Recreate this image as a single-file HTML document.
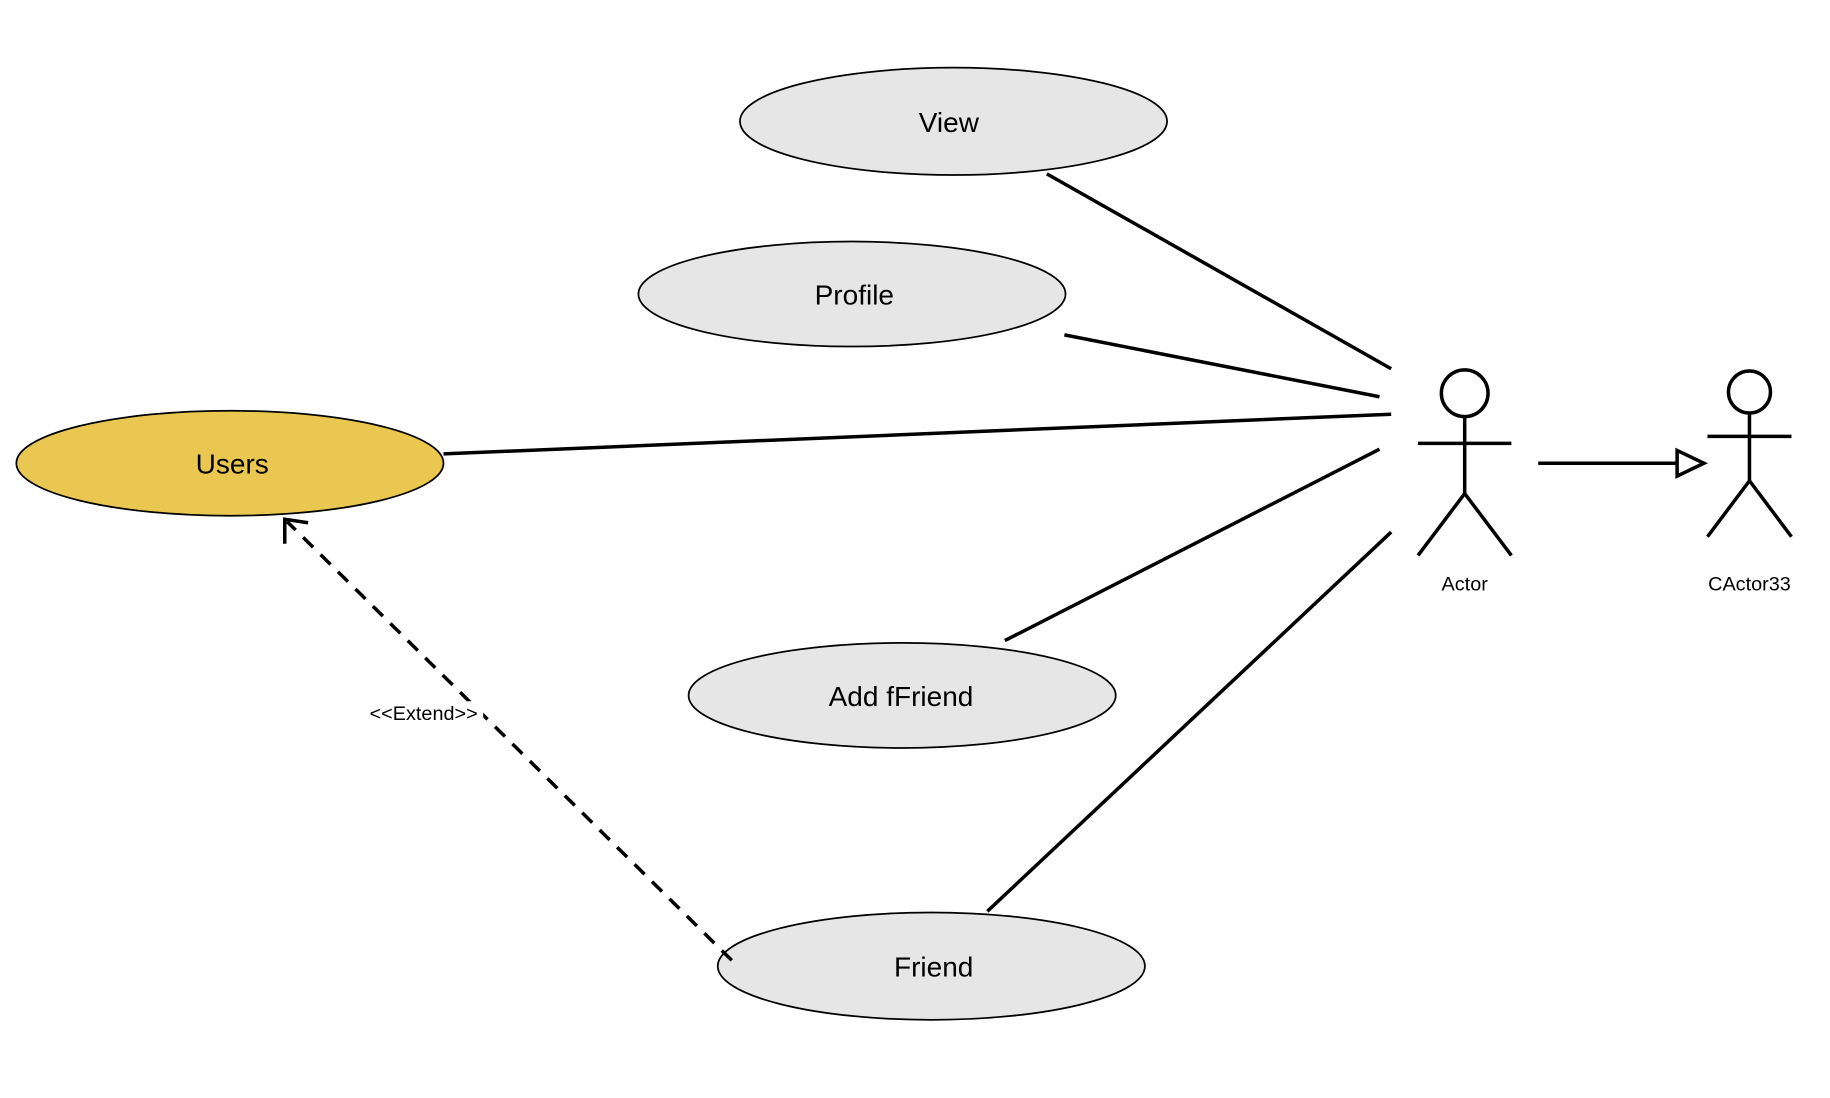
<!DOCTYPE html>
<html><head><meta charset="utf-8"><style>
html,body{margin:0;padding:0;background:#fff;}
svg{display:block;}
</style></head><body>
<svg width="1830" height="1098" viewBox="0 0 1568 941" preserveAspectRatio="none" xmlns="http://www.w3.org/2000/svg" font-family="'Liberation Sans', sans-serif">
<rect width="1568" height="941" fill="#fff"/>
<g stroke="#000" stroke-width="1.5">
<ellipse cx="817" cy="104" rx="183" ry="46" fill="#E6E6E6"/>
<ellipse cx="730" cy="252" rx="183" ry="45" fill="#E6E6E6"/>
<ellipse cx="197" cy="397" rx="183" ry="45" fill="#E9C751"/>
<ellipse cx="773" cy="596" rx="183" ry="45" fill="#E6E6E6"/>
<ellipse cx="798" cy="828" rx="183" ry="46" fill="#E6E6E6"/>
</g>
<g font-size="24" text-anchor="middle" fill="#000">
<text x="813" y="113">View</text>
<text x="732" y="261">Profile</text>
<text x="199" y="406">Users</text>
<text x="772" y="605">Add fFriend</text>
<text x="800" y="837">Friend</text>
</g>
<g stroke="#000" stroke-width="3" fill="none">
<line x1="897" y1="149" x2="1192" y2="316"/>
<line x1="912" y1="287" x2="1182" y2="340"/>
<line x1="380" y1="389" x2="1192" y2="355"/>
<line x1="861" y1="549" x2="1182" y2="385"/>
<line x1="846" y1="781" x2="1192" y2="456"/>
<line x1="627" y1="823" x2="246" y2="447" stroke-dasharray="12,9"/>
<polyline points="244,466 244,445 264,448"/>
<circle cx="1255" cy="337" r="20"/>
<line x1="1255" y1="357" x2="1255" y2="423"/>
<line x1="1215" y1="380" x2="1295" y2="380"/>
<line x1="1255" y1="423" x2="1215" y2="476"/>
<line x1="1255" y1="423" x2="1295" y2="476"/>
<circle cx="1499" cy="336" r="18"/>
<line x1="1499" y1="354" x2="1499" y2="412"/>
<line x1="1463" y1="374" x2="1535" y2="374"/>
<line x1="1499" y1="412" x2="1463" y2="460"/>
<line x1="1499" y1="412" x2="1535" y2="460"/>
<line x1="1318" y1="397" x2="1437" y2="397"/>
<polygon points="1437,386 1460,397 1437,408" fill="#fff"/>
</g>
<rect x="312" y="601" width="102" height="20" fill="#fff"/>
<g font-size="17" text-anchor="middle" fill="#000">
<text x="363" y="617">&lt;&lt;Extend&gt;&gt;</text>
<text x="1255" y="506">Actor</text>
<text x="1499" y="506">CActor33</text>
</g>
</svg>
</body></html>
